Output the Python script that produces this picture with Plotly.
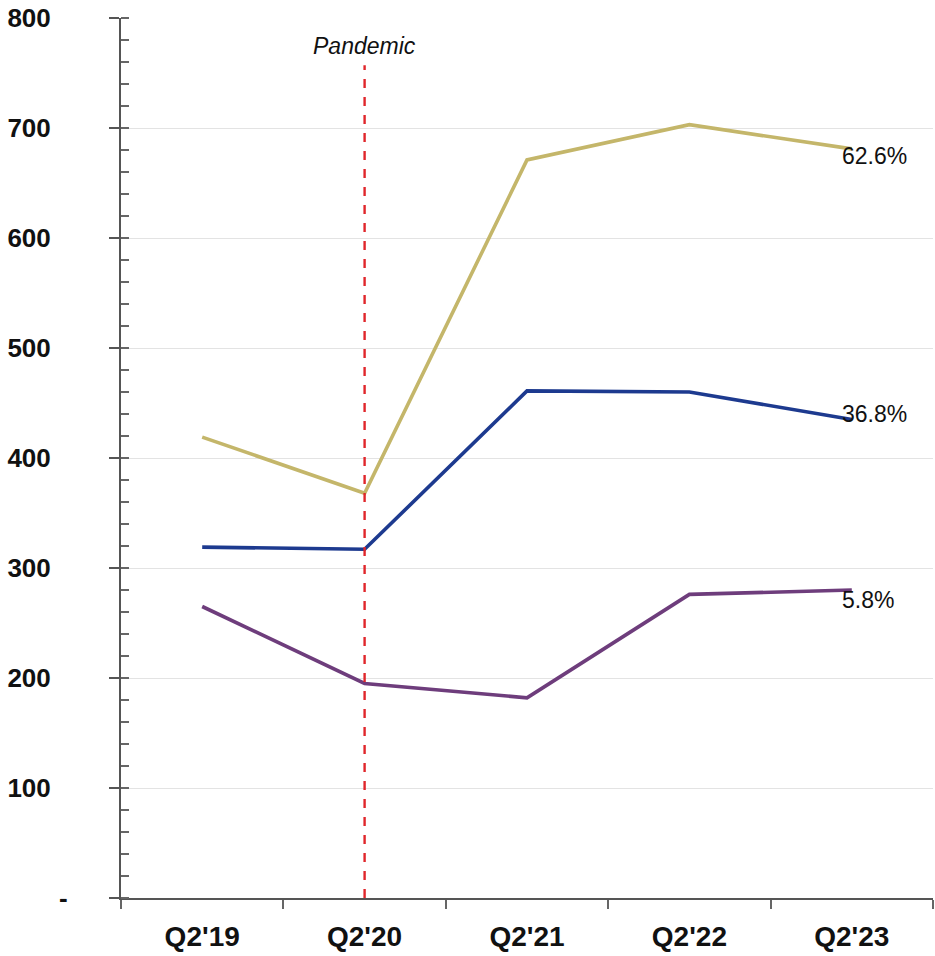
import plotly.graph_objects as go

quarters = ["Q2'19", "Q2'20", "Q2'21", "Q2'22", "Q2'23"]
series_gold = [419, 368, 671, 703, 681]
series_blue = [319, 317, 461, 460, 435]
series_purple = [265, 195, 182, 276, 280]
end_labels = ["62.6%", "36.8%", "5.8%"]
y_ticks = [0, 100, 200, 300, 400, 500, 600, 700, 800]
y_ticktext = ["", "100", "200", "300", "400", "500", "600", "700", "800"]
pandemic_quarter = "Q2'20"

colors = ["#c4b66a", "#1d3a8f", "#6e3d7c"]
series = [series_gold, series_blue, series_purple]

fig = go.Figure()
for vals, col in zip(series, colors):
    fig.add_trace(go.Scatter(
        x=quarters, y=vals, mode="lines",
        line=dict(color=col, width=3.6),
        showlegend=False, hoverinfo="skip",
    ))

# end-of-line share labels
label_shift = [-7, 6, -10]
for vals, txt, dy in zip(series, end_labels, label_shift):
    fig.add_annotation(
        x=quarters[-1], y=vals[-1], text=txt, showarrow=False,
        xanchor="left", yanchor="middle", xshift=-12, yshift=dy,
        font=dict(family="Arial, Liberation Sans", size=23, color="#111"),
    )

# pandemic marker
fig.add_shape(type="line", xref="x", yref="y",
              x0=pandemic_quarter, x1=pandemic_quarter, y0=0, y1=757,
              line=dict(color="#e0262b", width=2.4, dash="dash"))
fig.add_annotation(x=pandemic_quarter, y=775, text="<i>Pandemic</i>",
                   showarrow=False, xanchor="center", yanchor="middle",
                   font=dict(family="Arial, Liberation Sans", size=23, color="#111"))

# zero label drawn as a dash
fig.add_annotation(xref="paper", x=0, y=0, text="<b>-</b>", showarrow=False,
                   xanchor="right", yanchor="middle", xshift=-51,
                   font=dict(family="Arial, Liberation Sans", size=26, color="#111"))

fig.update_layout(
    width=935, height=956,
    margin=dict(l=121, r=2, t=18, b=58),
    paper_bgcolor="white", plot_bgcolor="white",
    font=dict(family="Arial, Liberation Sans", color="#111"),
)
fig.update_xaxes(
    type="category", range=[-0.5, 4.5],
    showline=True, linecolor="#555", linewidth=2,
    ticks="outside", tickson="boundaries", ticklen=9, tickcolor="#666", tickwidth=2,
    tickfont=dict(size=28, family="Arial, Liberation Sans", color="#111"),
    tickprefix="<b>", ticksuffix="</b>",
    ticklabelstandoff=12,
    showgrid=False, zeroline=False,
)
fig.update_yaxes(
    range=[0, 800], tickvals=y_ticks, ticktext=["<b>%s</b>" % t if t else "" for t in y_ticktext],
    showline=True, linecolor="#555", linewidth=2,
    ticks="outside", ticklen=10, tickcolor="#555", tickwidth=2,
    tickfont=dict(size=26, family="Arial, Liberation Sans", color="#111"),
    ticklabelstandoff=53,
    showgrid=True, gridcolor="#e3e3e3", gridwidth=1.2, zeroline=False,
    minor=dict(dtick=20, ticks="inside", ticklen=8, tickcolor="#666", tickwidth=2, showgrid=False),
)

fig.write_html("out.html")
